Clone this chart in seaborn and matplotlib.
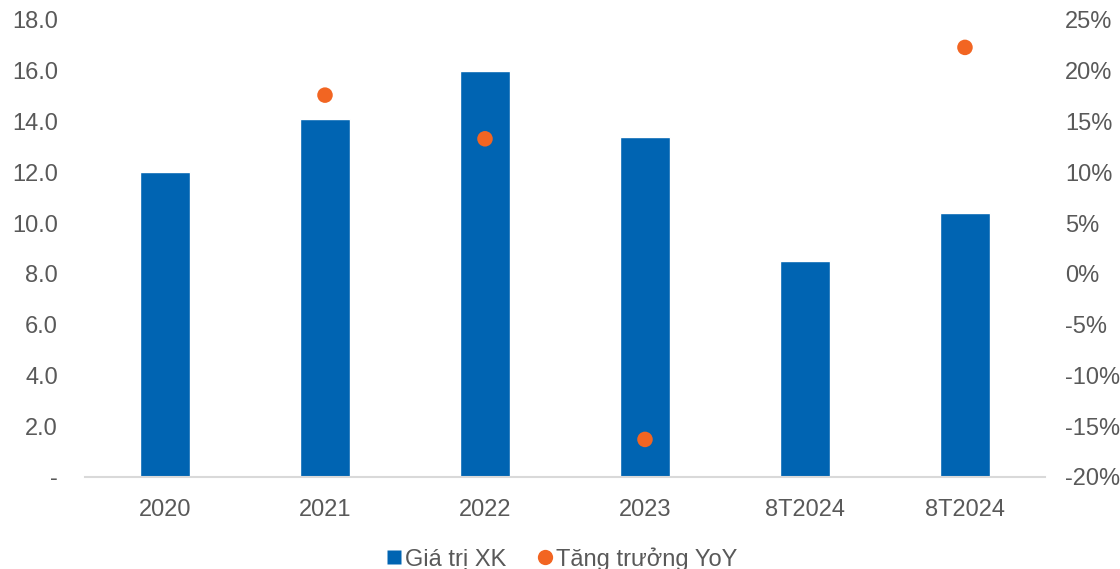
import numpy as np
import pandas as pd
import matplotlib
matplotlib.use("Agg")
import matplotlib.pyplot as plt
from matplotlib.lines import Line2D
from matplotlib.ticker import FuncFormatter, MultipleLocator
import seaborn as sns

# Export value (left axis) and YoY growth in % (right axis)
periods = ["2020", "2021", "2022", "2023", "8T2024", "8T2024"]
export_value = [12.0, 14.1, 16.0, 13.4, 8.5, 10.4]
yoy_growth = [np.nan, 17.6, 13.3, -16.3, np.nan, 22.3]

bar_label = "Giá trị XK"
dot_label = "Tăng trưởng YoY"

BLUE = "#0064B2"
ORANGE = "#F26522"
TEXT = "#595959"
FS = 17

sns.set_theme(style="white")
plt.rcParams["font.family"] = ["Liberation Sans", "DejaVu Sans"]

df = pd.DataFrame({
    "idx": range(len(periods)),
    "value": export_value,
    "growth": yoy_growth,
})

fig = plt.figure(figsize=(11.2, 5.69), dpi=100)
ax = fig.add_axes([0.0759, 0.1617, 0.8571, 0.8032])

sns.barplot(data=df, x="idx", y="value", color=BLUE, width=0.31,
            saturation=1, ax=ax)

ax2 = ax.twinx()
sns.scatterplot(data=df.dropna(subset=["growth"]), x="idx", y="growth",
                color=ORANGE, s=125, edgecolor="none", ax=ax2, zorder=5)

ax.set_xlim(-0.5, len(periods) - 0.5)
ax.set_ylim(0, 18)
ax2.set_ylim(-20, 25)

ax.yaxis.set_major_locator(MultipleLocator(2))
ax.yaxis.set_major_formatter(FuncFormatter(lambda v, p: "-" if abs(v) < 1e-9 else f"{v:.1f}"))
ax2.yaxis.set_major_locator(MultipleLocator(5))
ax2.yaxis.set_major_formatter(FuncFormatter(lambda v, p: f"{v:.0f}%"))

ax.set_xticks(range(len(periods)))
ax.set_xticklabels(periods)

for a in (ax, ax2):
    a.set_xlabel("")
    a.set_ylabel("")
    for s in a.spines.values():
        s.set_visible(False)
    a.tick_params(axis="both", length=0, labelsize=FS, colors=TEXT)
    a.grid(False)

ax.spines["bottom"].set_visible(True)
ax.spines["bottom"].set_color("#D9D9D9")
ax.spines["bottom"].set_linewidth(1.5)
ax.tick_params(axis="x", pad=15.5)
ax.tick_params(axis="y", pad=19.5)
ax2.tick_params(axis="y", pad=14.5)
for lbl in ax.get_yticklabels():
    lbl.set_horizontalalignment("right")

handles = [
    Line2D([], [], marker="s", linestyle="none", markersize=9.5,
           markerfacecolor=BLUE, markeredgecolor="none", label=bar_label),
    Line2D([], [], marker="o", linestyle="none", markersize=11,
           markerfacecolor=ORANGE, markeredgecolor="none", label=dot_label),
]
fig.legend(handles=handles, loc="lower center", bbox_to_anchor=(0.501, -0.04),
           ncol=2, frameon=False, fontsize=FS, labelcolor=TEXT,
           handletextpad=0.05, columnspacing=1.25, handlelength=0.8)

fig.savefig("out.png", dpi=100)
